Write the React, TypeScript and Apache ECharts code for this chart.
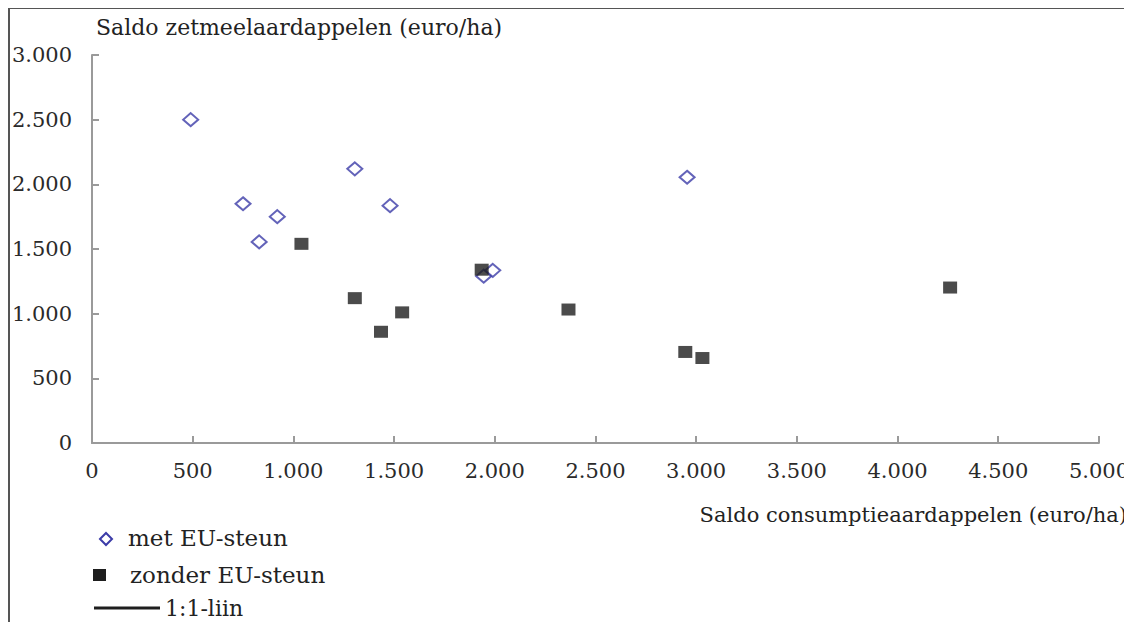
import React, { useEffect, useRef } from "react";
import * as echarts from "echarts";

const xTicks = [0, 500, 1000, 1500, 2000, 2500, 3000, 3500, 4000, 4500, 5000];
const yTicks = [0, 500, 1000, 1500, 2000, 2500, 3000];

const metX = [490, 750, 920, 830, 1305, 1480, 2955, 1945, 1990];
const metY = [2500, 1850, 1750, 1555, 2120, 1835, 2055, 1290, 1335];

const zonderX = [1040, 1305, 1435, 1540, 1935, 2366, 2946, 3031, 4261];
const zonderY = [1540, 1120, 860, 1010, 1340, 1032, 704, 657, 1202];

const xTitle = "Saldo consumptieaardappelen (euro/ha)";
const yTitle = "Saldo zetmeelaardappelen (euro/ha)";
const legendNames = ["met EU-steun", "zonder EU-steun", "1:1-liin"];

const FONT = "DejaVu Serif";
const FS = 21;
const fmt = (v: number) => String(v).replace(/\B(?=(\d{3})+(?!\d))/g, ".");

export default function App() {
  const ref = useRef<HTMLDivElement>(null);
  useEffect(() => {
    if (!ref.current) return;
    const chart = echarts.init(ref.current, null, { renderer: "svg" });
    const axisColor = "#9a9a9a";
    const txt = (text: string, x: number, y: number, size: number, align = "left") => ({
      type: "text",
      x,
      y,
      style: {
        text,
        fontFamily: FONT,
        fontSize: size,
        fill: "#222",
        align,
        verticalAlign: "middle",
      },
    });
    chart.setOption({
      animation: false,
      backgroundColor: "#ffffff",
      textStyle: { fontFamily: FONT },
      grid: { left: 84, right: 32, top: 47, bottom: 179, containLabel: false },
      xAxis: {
        type: "value",
        min: xTicks[0],
        max: xTicks[xTicks.length - 1],
        interval: 500,
        axisLine: { show: true, lineStyle: { color: axisColor, width: 2 } },
        axisTick: { show: true, inside: true, length: 7, lineStyle: { color: axisColor, width: 2 } },
        splitLine: { show: false },
        axisLabel: {
          margin: 17,
          fontFamily: FONT,
          fontSize: FS,
          color: "#2a2a2a",
          formatter: (v: number) => fmt(v),
        },
      },
      yAxis: {
        type: "value",
        min: yTicks[0],
        max: yTicks[yTicks.length - 1],
        interval: 500,
        axisLine: { show: true, lineStyle: { color: axisColor, width: 2 } },
        axisTick: { show: true, inside: true, length: 7, lineStyle: { color: axisColor, width: 2 } },
        splitLine: { show: false },
        axisLabel: {
          margin: 20,
          fontFamily: FONT,
          fontSize: FS,
          color: "#2a2a2a",
          formatter: (v: number) => fmt(v),
        },
      },
      series: [
        {
          name: legendNames[0],
          type: "scatter",
          symbol: "diamond",
          symbolSize: [15, 13],
          z: 2,
          itemStyle: { color: "#ffffff", borderColor: "#3c3ca8", borderWidth: 2 },
          data: metX.map((x, i) => [x, metY[i]]),
        },
        {
          name: legendNames[1],
          type: "scatter",
          symbol: "rect",
          symbolSize: [14, 12],
          z: 3,
          itemStyle: { color: "#1e1e1e" },
          data: zonderX.map((x, i) => [x, zonderY[i]]),
        },
        {
          name: legendNames[2],
          type: "line",
          showSymbol: false,
          lineStyle: { color: "#1e1e1e", width: 3 },
          data: [],
        },
      ],
      graphic: [
        { type: "line", shape: { x1: 1, y1: 0, x2: 1, y2: 620 }, style: { stroke: "#555", lineWidth: 2 } },
        { type: "line", shape: { x1: 0, y1: 0, x2: 1130, y2: 0 }, style: { stroke: "#555", lineWidth: 2 } },
        txt(yTitle, 88, 19, 22),
        txt(xTitle, 1119, 507, 21, "right"),
        {
          type: "polygon",
          shape: { points: [[92, 531], [98, 525], [104, 531], [98, 537]] },
          style: { fill: "#fff", stroke: "#3c3ca8", lineWidth: 2 },
        },
        txt(legendNames[0], 120, 530, 23),
        { type: "rect", shape: { x: 85, y: 561, width: 13, height: 12 }, style: { fill: "#1e1e1e" } },
        txt(legendNames[1], 122, 567, 23),
        {
          type: "line",
          shape: { x1: 86, y1: 600, x2: 152, y2: 600 },
          style: { stroke: "#1e1e1e", lineWidth: 3 },
        },
        txt(legendNames[2], 157, 600, 22),
      ],
    });
    return () => chart.dispose();
  }, []);
  return <div ref={ref} style={{ width: 1124, height: 614 }} />;
}
